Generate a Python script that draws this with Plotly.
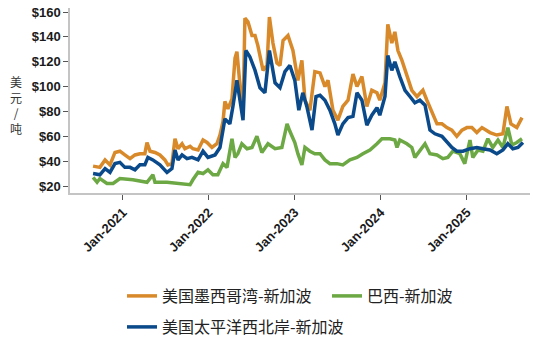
import plotly.graph_objects as go

# Weekly grain freight, USD per tonne
gulf_dates = ["2020-08-27", "2020-09-25", "2020-10-17", "2020-11-07", "2020-11-28", "2020-12-19",
              "2021-01-09", "2021-01-31", "2021-02-21", "2021-03-14", "2021-04-04", "2021-04-13",
              "2021-04-26", "2021-05-17", "2021-06-07", "2021-06-28", "2021-07-11", "2021-07-28",
              "2021-08-10", "2021-08-23", "2021-09-09", "2021-09-21", "2021-10-13", "2021-10-25",
              "2021-11-16", "2021-12-07", "2021-12-24", "2022-01-14", "2022-02-04", "2022-02-17",
              "2022-03-02", "2022-03-10", "2022-03-23", "2022-04-09", "2022-04-22", "2022-04-30",
              "2022-05-17", "2022-05-26", "2022-06-03", "2022-06-16", "2022-07-03", "2022-07-16",
              "2022-07-28", "2022-08-19", "2022-09-05", "2022-09-15", "2022-09-30", "2022-10-17",
              "2022-10-30", "2022-11-12", "2022-12-03", "2022-12-24", "2023-01-14", "2023-01-31",
              "2023-02-13", "2023-03-06", "2023-03-27", "2023-04-18", "2023-05-09", "2023-05-22",
              "2023-06-12", "2023-07-03", "2023-07-24", "2023-08-15", "2023-09-05", "2023-09-22",
              "2023-10-13", "2023-11-03", "2023-11-24", "2023-12-16", "2023-12-28", "2024-01-19",
              "2024-01-31", "2024-02-17", "2024-03-01", "2024-03-14", "2024-03-31", "2024-04-21",
              "2024-05-12", "2024-06-03", "2024-06-28", "2024-07-15", "2024-08-05", "2024-08-27",
              "2024-09-17", "2024-10-08", "2024-10-29", "2024-11-19", "2024-12-11", "2025-01-01",
              "2025-01-22", "2025-02-12", "2025-03-06", "2025-04-09", "2025-05-08", "2025-06-03",
              "2025-06-20", "2025-07-07", "2025-08-01", "2025-08-23"]
gulf_values = [36, 35, 41, 37, 47, 48,
               45, 42, 45, 46, 46, 55,
               48, 47, 45, 41, 37, 38,
               58, 50, 54, 50, 52, 50,
               49, 57, 55, 51, 54, 61,
               72, 88, 82, 90, 123, 128,
               93, 77, 155, 152, 141, 141,
               133, 113, 117, 156, 135, 119,
               117, 137, 141, 129, 105, 121,
               89, 81, 112, 111, 100, 105,
               81, 73, 84, 89, 110, 100,
               108, 84, 97, 95, 89, 103,
               150, 135, 144, 129, 121, 108,
               97, 92, 97, 89, 79, 70,
               70, 67, 65, 60, 65, 67,
               67, 63, 67, 63, 61, 62,
               84, 70, 67, 75]

pnw_dates = ["2020-08-27", "2020-09-25", "2020-10-17", "2020-11-07", "2020-11-28", "2020-12-19",
             "2021-01-09", "2021-01-31", "2021-02-21", "2021-03-14", "2021-04-04", "2021-04-17",
             "2021-05-08", "2021-06-07", "2021-07-07", "2021-07-28", "2021-08-10", "2021-08-23",
             "2021-09-09", "2021-09-30", "2021-10-21", "2021-11-16", "2021-12-07", "2021-12-28",
             "2022-01-27", "2022-02-17", "2022-03-10", "2022-03-31", "2022-04-13", "2022-04-30",
             "2022-05-13", "2022-05-26", "2022-06-07", "2022-06-24", "2022-07-16", "2022-08-06",
             "2022-08-27", "2022-09-15", "2022-10-09", "2022-10-30", "2022-11-20", "2022-12-11",
             "2023-01-01", "2023-01-18", "2023-02-04", "2023-02-21", "2023-03-15", "2023-04-01",
             "2023-04-18", "2023-05-09", "2023-05-30", "2023-06-20", "2023-07-03", "2023-07-24",
             "2023-08-15", "2023-09-05", "2023-09-22", "2023-10-13", "2023-11-03", "2023-11-24",
             "2023-12-16", "2023-12-28", "2024-01-19", "2024-01-31", "2024-02-17", "2024-03-01",
             "2024-03-22", "2024-04-13", "2024-05-04", "2024-05-25", "2024-06-15", "2024-07-07",
             "2024-07-28", "2024-08-18", "2024-09-17", "2024-10-08", "2024-10-29", "2024-11-19",
             "2024-12-15", "2025-01-14", "2025-02-12", "2025-03-10", "2025-04-09", "2025-05-08",
             "2025-06-03", "2025-06-24", "2025-07-15", "2025-08-06", "2025-08-27"]
pnw_values = [30, 29, 34, 31, 38, 39,
              35, 35, 33, 37, 37, 43,
              41, 37, 31, 34, 49, 41,
              45, 42, 43, 41, 48, 43,
              45, 51, 74, 70, 84, 105,
              89, 73, 129, 124, 113, 99,
              95, 129, 103, 99, 112, 117,
              105, 81, 95, 84, 65, 92,
              93, 89, 81, 70, 61, 70,
              75, 76, 95, 89, 69, 77,
              83, 77, 92, 125, 113, 120,
              108, 97, 92, 87, 89, 85,
              65, 62, 60, 55, 51, 48,
              48, 50, 51, 50, 49, 46,
              49, 54, 50, 51, 55]

brazil_dates = ["2020-08-27", "2020-09-13", "2020-09-25", "2020-10-25", "2020-11-20", "2020-12-19",
                "2021-02-12", "2021-04-13", "2021-05-08", "2021-05-17", "2021-07-07", "2021-08-31",
                "2021-10-13", "2021-10-25", "2021-11-16", "2021-12-07", "2021-12-28", "2022-01-18",
                "2022-02-08", "2022-03-02", "2022-03-19", "2022-04-09", "2022-04-22", "2022-05-04",
                "2022-05-21", "2022-06-12", "2022-07-03", "2022-07-24", "2022-08-14", "2022-09-09",
                "2022-10-09", "2022-11-07", "2022-11-29", "2022-12-11", "2023-01-01", "2023-01-14",
                "2023-01-31", "2023-02-13", "2023-03-06", "2023-03-27", "2023-04-18", "2023-05-09",
                "2023-05-30", "2023-06-29", "2023-07-24", "2023-08-23", "2023-09-22", "2023-10-17",
                "2023-11-16", "2023-12-16", "2024-01-06", "2024-02-09", "2024-03-01", "2024-03-10",
                "2024-03-22", "2024-04-21", "2024-05-12", "2024-05-25", "2024-06-15", "2024-07-07",
                "2024-07-28", "2024-08-27", "2024-09-21", "2024-10-12", "2024-11-02", "2024-12-02",
                "2024-12-23", "2025-01-14", "2025-01-26", "2025-02-17", "2025-03-10", "2025-03-31",
                "2025-04-21", "2025-05-13", "2025-06-03", "2025-06-24", "2025-07-11", "2025-08-01",
                "2025-08-23"]
brazil_values = [27, 23, 26, 22, 22, 26,
                 25, 23, 29, 23, 23, 22,
                 21, 25, 31, 30, 33, 29,
                 29, 38, 35, 58, 43, 46,
                 54, 50, 51, 60, 47, 54,
                 50, 51, 70, 64, 55, 46,
                 37, 51, 48, 46, 46, 41,
                 38, 38, 37, 41, 43, 46,
                 49, 54, 58, 58, 57, 51,
                 57, 54, 51, 43, 48, 54,
                 46, 45, 42, 43, 48, 46,
                 38, 57, 43, 49, 48, 58,
                 51, 57, 51, 67, 53, 55,
                 58]

series_names = ["美国墨西哥湾-新加波", "巴西-新加波", "美国太平洋西北岸-新加波"]
series_colors = ["#D8892A", "#6CA844", "#0B4A8A"]
y_ticks = [20, 40, 60, 80, 100, 120, 140, 160]
y_title = "美元/吨"

# plot-area geometry in pixels
W, H = 534, 340
L, R, T, B = 70, 530, 8, 193
pw, ph = R - L, B - T


def px_x(x):
    return (x - L) / pw


def px_y(y):
    return (B - y) / ph


fig = go.Figure()
fig.add_trace(go.Scatter(x=brazil_dates, y=brazil_values, name=series_names[1], mode="lines",
                         line=dict(color=series_colors[1], width=3.5), legend="legend2"))
fig.add_trace(go.Scatter(x=gulf_dates, y=gulf_values, name=series_names[0], mode="lines",
                         line=dict(color=series_colors[0], width=3.5), legend="legend"))
fig.add_trace(go.Scatter(x=pnw_dates, y=pnw_values, name=series_names[2], mode="lines",
                         line=dict(color=series_colors[2], width=3.5), legend="legend3"))

tick_font = dict(family="Liberation Sans, Arial", size=13, color="#1a1a1a", weight="bold")
legend_font = dict(family="Noto Sans CJK SC", size=16, color="#222222")


def legend_at(x_px, y_px):
    return dict(x=px_x(x_px), y=px_y(y_px), xanchor="left", yanchor="middle",
                orientation="h", font=legend_font, bgcolor="rgba(0,0,0,0)",
                borderwidth=0, tracegroupgap=0)


fig.update_layout(
    width=W, height=H,
    margin=dict(l=L, r=W - R, t=T, b=H - B, autoexpand=False),
    paper_bgcolor="white", plot_bgcolor="white",
    showlegend=True,
    legend=legend_at(122, 296),
    legend2=legend_at(327, 296),
    legend3=legend_at(122, 327),
    xaxis=dict(
        type="date",
        range=["2020-05-21", "2025-09-26"],
        tick0="2021-01-01", dtick="M12", tickformat="%b-%Y",
        tickangle=-45, tickfont=tick_font,
        showgrid=False, zeroline=False,
        showline=True, linecolor="#c4c4c4", linewidth=1.5,
        ticks="outside", ticklen=5, tickcolor="#555555", tickwidth=1.2,
    ),
    yaxis=dict(
        range=[20 - 7 / 1.243, 160 + 4 / 1.243],
        tickvals=y_ticks, ticktext=["$%d" % v for v in y_ticks],
        tickfont=tick_font,
        showgrid=False, zeroline=False,
        showline=True, linecolor="#c4c4c4", linewidth=1.5,
        ticks="outside", ticklen=5, tickcolor="#555555", tickwidth=1.2,
    ),
)

# vertical, stacked axis title
fig.add_annotation(text="<br>".join(y_title), xref="paper", yref="paper",
                   x=px_x(16), y=px_y(105),
                   xanchor="center", yanchor="middle", showarrow=False,
                   font=dict(family="Noto Sans CJK SC", size=12, color="#333333"))

fig.write_html("out.html")
